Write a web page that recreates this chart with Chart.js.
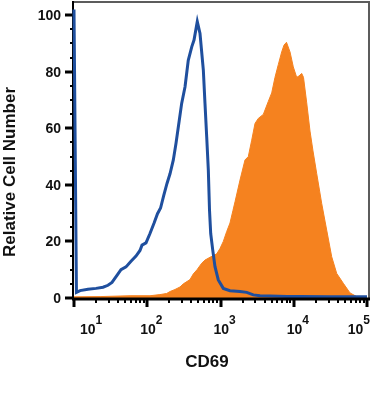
<!DOCTYPE html>
<html>
<head>
<meta charset="utf-8">
<script src="https://cdn.jsdelivr.net/npm/chart.js@4/dist/chart.umd.min.js"></script>
<style>
  html, body { margin: 0; padding: 0; background: #fff; }
  #wrap { width: 371px; height: 395px; }
</style>
</head>
<body>
<div id="wrap"><canvas id="cd69-chart" width="371" height="395"></canvas></div>
<script>
// --- Data (CD69 intensity vs relative cell number) ---
const isotypeX = [10, 10.8, 12.1, 15.5, 20, 24.9, 29.1, 33, 38.6, 43.8, 51.3, 60, 70.2, 79.6, 84.8, 96.1, 109, 124, 138, 152,
    167, 186, 205, 227, 247, 274, 295, 328, 363, 405, 435, 482, 525, 583, 614, 648, 682, 708, 735, 783,
    841, 933, 1092, 1348, 1846, 2279, 2804, 3461, 4741, 8086, 12170, 31250, 100000];
const isotypeY = [102, 2.0, 2.6, 3.1, 3.4, 3.8, 4.5, 5.5, 8.0, 10.0, 11.0, 13.0, 14.8, 16.8, 18.7, 19.5, 22.8, 26.5, 29.8, 31.8,
    36, 40.5, 44, 48.8, 54.7, 62.9, 68.8, 74.7, 84, 88.8, 91.2, 97.7, 93.5, 80.6, 68.8, 57, 45.2, 31, 22.8, 17,
    11.1, 6.4, 3.4, 2.6, 2.3, 2.0, 1.1, 0.8, 0.7, 0.5, 0.5, 0.4, 0.4];

const cd69X = [10, 22.7, 58.2, 109, 149, 184, 205, 239, 280, 311, 383, 425, 478, 554, 614, 719, 888, 984, 1092, 1215,
    1348, 1481, 1578, 1846, 2160, 2396, 2667, 2958, 3281, 3840, 4494, 5000, 5546, 6152, 6846, 7360, 7962, 8889, 9860, 10970,
    11800, 12840, 13590, 15030, 16670, 18310, 20570, 24080, 28170, 32970, 38580, 47480, 58610, 72340, 88200, 100000];
const cd69Y = [0.4, 0.5, 0.8, 0.8, 1.2, 1.6, 2.3, 3, 3.9, 5.0, 6.5, 8.5, 10, 12.3, 13.4, 14.4, 15.6, 17.5, 20, 23.5,
    26.5, 31, 34, 41.7, 48.8, 50, 55.8, 61.7, 63.5, 64.9, 69.5, 72.5, 78, 82.5, 87, 89.4, 90.4, 87, 81.7, 78,
    78.5, 79.4, 78, 69, 59, 52, 44, 33.4, 24, 14.6, 8.7, 5.2, 1.8, 0.5, 0.3, 0.2];

const yTicks = [0, 20, 40, 60, 80, 100];
const xExponents = [1, 2, 3, 4, 5];
const xTitle = 'CD69';
const yTitle = 'Relative Cell Number';

const Cores = { orange: '#f5821f', blue: '#1f4f9e', axis: '#000', frame: '#5c5c5c', text: '#111' };
const FONT = '"Liberation Sans", Arial, sans-serif';

// --- Axes, ticks and labels drawn by hand (FlowJo style) ---
const flowAxes = {
    id: 'flowAxes',
    beforeDatasetsDraw(chart) {
        const { ctx, chartArea: a, scales: { y } } = chart;
        ctx.save();
        // top and right frame
        ctx.strokeStyle = Cores.frame;
        ctx.lineWidth = 2;
        ctx.beginPath();
        ctx.moveTo(a.left - 2, a.top + 1);
        ctx.lineTo(a.right + 2, a.top + 1);
        ctx.lineTo(a.right + 2, a.bottom);
        ctx.stroke();
        // left axis
        ctx.strokeStyle = Cores.axis;
        ctx.beginPath();
        ctx.moveTo(a.left - 1, a.top);
        ctx.lineTo(a.left - 1, a.bottom + 2);
        ctx.stroke();
        // y ticks: majors every 20, minors every 5
        for (let v = 0; v <= 100; v += 5) {
            const py = Math.round(y.getPixelForValue(v));
            const major = v % 20 === 0;
            ctx.lineWidth = major ? 3 : 2;
            ctx.beginPath();
            ctx.moveTo(a.left - (major ? 9 : 4), py);
            ctx.lineTo(a.left - 1, py);
            ctx.stroke();
        }
        ctx.fillStyle = Cores.text;
        ctx.font = `bold 14px ${FONT}`;
        ctx.textAlign = 'right';
        ctx.textBaseline = 'middle';
        yTicks.forEach(v => ctx.fillText(String(v), a.left - 13, y.getPixelForValue(v) + 1));

        // y title
        ctx.save();
        ctx.translate(15, 172);
        ctx.rotate(-Math.PI / 2);
        ctx.font = `bold 17px ${FONT}`;
        ctx.textAlign = 'center';
        ctx.textBaseline = 'alphabetic';
        ctx.fillText(yTitle, 0, 0);
        ctx.restore();
        ctx.restore();
    },
    afterDatasetsDraw(chart) {
        const { ctx, chartArea: a, scales: { x } } = chart;
        ctx.save();
        ctx.strokeStyle = Cores.axis;
        // bottom axis
        ctx.lineWidth = 3;
        ctx.beginPath();
        ctx.moveTo(a.left - 2, a.bottom + 1);
        ctx.lineTo(a.right + 3, a.bottom + 1);
        ctx.stroke();
        // x ticks: decades plus 2..9 minors
        xExponents.forEach(e => {
            const base = Math.pow(10, e);
            const steps = e < 5 ? [1, 2, 3, 4, 5, 6, 7, 8, 9] : [1];
            steps.forEach(m => {
                const px = Math.round(x.getPixelForValue(base * m));
                const major = m === 1;
                ctx.lineWidth = major ? 3 : 2;
                ctx.beginPath();
                ctx.moveTo(px, a.bottom + 1);
                ctx.lineTo(px, a.bottom + (major ? 9 : 5));
                ctx.stroke();
            });
        });
        // x labels as 10 with superscript exponent
        ctx.fillStyle = Cores.text;
        ctx.textAlign = 'left';
        ctx.textBaseline = 'alphabetic';
        xExponents.forEach(e => {
            const px = x.getPixelForValue(Math.pow(10, e));
            ctx.font = `bold 14px ${FONT}`;
            const w1 = ctx.measureText('10').width;
            ctx.font = `bold 12px ${FONT}`;
            const w2 = ctx.measureText(String(e)).width;
            let left = px - 7;
            left = Math.max(a.left + 6, Math.min(chart.width - w1 - w2 - 1, left));
            ctx.font = `bold 14px ${FONT}`;
            ctx.fillText('10', left, 334);
            ctx.font = `bold 12px ${FONT}`;
            ctx.fillText(String(e), left + w1, 324);
        });
        // x title
        ctx.font = `bold 17px ${FONT}`;
        ctx.textAlign = 'center';
        ctx.fillText(xTitle, 207, 367);
        ctx.restore();
    }
};

new Chart(document.getElementById('cd69-chart'), {
    type: 'line',
    data: {
        datasets: [
            {
                label: 'CD69',
                data: cd69X.map((v, i) => ({ x: v, y: cd69Y[i] })),
                borderColor: Cores.orange,
                backgroundColor: Cores.orange,
                borderWidth: 1,
                fill: 'origin',
                pointRadius: 0,
                tension: 0,
                order: 2
            },
            {
                label: 'Isotype',
                data: isotypeX.map((v, i) => ({ x: v, y: isotypeY[i] })),
                borderColor: Cores.blue,
                borderWidth: 3,
                fill: false,
                pointRadius: 0,
                tension: 0,
                clip: 4,
                order: 1
            }
        ]
    },
    options: {
        responsive: false,
        animation: false,
        layout: { padding: { left: 74, right: 4, top: 1, bottom: 97 } },
        scales: {
            x: { type: 'logarithmic', min: 10, max: 100000, display: false },
            y: { type: 'linear', min: 0, max: 105, display: false }
        },
        plugins: {
            legend: { display: false },
            tooltip: { enabled: false }
        }
    },
    plugins: [flowAxes]
});
</script>
</body>
</html>
